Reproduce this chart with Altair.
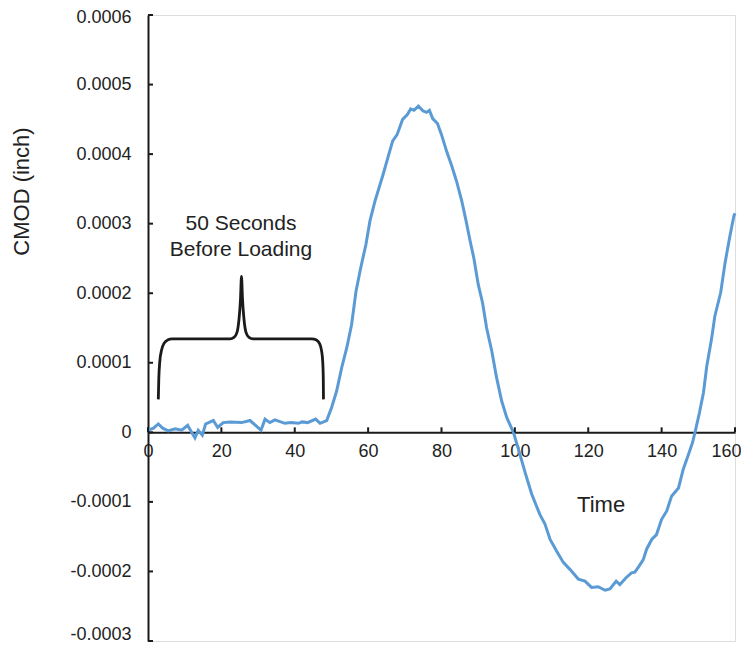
import altair as alt
import pandas as pd

# CMOD values in units of 1e-4 inch
time = [0, 0.5, 1.5, 2.8, 4, 5.5, 7.4, 9.2, 10.8, 12.8, 13.7, 14.8, 15.7, 17.8, 19,
        20.5, 22.3, 25.5, 27.8, 30.8, 31.9, 33.2, 34.6, 37.3, 39, 41, 42, 43.5, 45.7,
        46.9, 48.7, 50, 51.4, 52.8, 54.2, 55.5, 56.7, 58, 59.4, 60.5, 61.9, 63, 64.1,
        65.5, 66.7, 67.9, 69.4, 70.7, 71.6, 72.5, 73.7, 75, 75.9, 76.7, 77.6, 78.9, 80,
        81.4, 82.8, 84.1, 85.5, 86.7, 87.8, 88.8, 90, 91.2, 92.3, 93.7, 95, 96.4, 97.8,
        99.6, 101.4, 102.8, 104.6, 106.8, 108.2, 109.6, 111.4, 113.2, 115, 117.3, 119.1,
        120.9, 122.7, 124.6, 125.9, 127.6, 128.6, 130.3, 131.8, 132.7, 133.9, 135, 135.9,
        137.3, 138.6, 140, 141.4, 142.7, 144.6, 145.9, 147.5, 148.4, 149.1, 150.3, 151.4,
        152.3, 153.6, 154.5, 156.1, 157.3, 158.6, 159.7, 160]
cmod_e4 = [0, 0.04, 0.06, 0.12, 0.06, 0.02, 0.05, 0.03, 0.10, -0.08, 0.03, -0.04, 0.12,
           0.17, 0.07, 0.14, 0.15, 0.14, 0.17, 0.03, 0.19, 0.14, 0.18, 0.13, 0.14, 0.13,
           0.15, 0.14, 0.19, 0.13, 0.17, 0.35, 0.59, 0.93, 1.22, 1.55, 2.03, 2.37, 2.70,
           3.04, 3.33, 3.52, 3.71, 3.97, 4.19, 4.28, 4.50, 4.57, 4.65, 4.63, 4.69, 4.62,
           4.60, 4.63, 4.51, 4.44, 4.28, 4.04, 3.83, 3.61, 3.33, 3.04, 2.75, 2.51, 2.13,
           1.86, 1.50, 1.17, 0.79, 0.45, 0.21, 0.0, -0.32, -0.58, -0.89, -1.18, -1.32,
           -1.54, -1.71, -1.87, -1.97, -2.11, -2.14, -2.23, -2.22, -2.27, -2.25, -2.14,
           -2.19, -2.09, -2.02, -2.01, -1.92, -1.83, -1.68, -1.54, -1.47, -1.25, -1.13,
           -0.92, -0.80, -0.53, -0.29, -0.15, 0.0, 0.28, 0.57, 0.95, 1.34, 1.67, 2.01,
           2.44, 2.82, 3.11, 3.15]

x_ticks = [0, 20, 40, 60, 80, 100, 120, 140, 160]
y_ticks_e4 = [-3, -2, -1, 0, 1, 2, 3, 4, 5, 6]

# curly brace annotation (time, 1e-4 inch)
brace_t = [2.81, 2.94, 3.22, 3.68, 4.36, 5.45, 6.54, 22.35, 23.44, 24.26, 24.8, 25.21,
           25.48, 25.76, 26.17, 26.71, 27.53, 28.62, 44.7, 45.79, 46.74, 47.29, 47.62,
           47.78, 47.83]
brace_v = [0.474, 0.762, 1.021, 1.179, 1.279, 1.330, 1.344, 1.344, 1.366, 1.438, 1.624,
           1.912, 2.243, 1.912, 1.624, 1.438, 1.366, 1.344, 1.344, 1.330, 1.279, 1.179,
           1.021, 0.762, 0.474]

notes = ["50 Seconds", "Before Loading", "Time"]
note_t = [25.35, 25.35, 123.5]
note_v = [2.99, 2.62, -1.05]
note_size = [21, 21, 22]

E = 1e-4
df = pd.DataFrame({"t": time, "v": [c * E for c in cmod_e4]})
brace = pd.DataFrame({"t": brace_t, "v": [b * E for b in brace_v], "o": range(len(brace_t))})
ndf = pd.DataFrame({"label": notes, "t": note_t, "v": [n * E for n in note_v], "s": note_size})
xt = pd.DataFrame({"t": x_ticks})
yt = pd.DataFrame({"v": [y * E for y in y_ticks_e4]})

FONT = "Liberation Sans"
AX = "#1a1a1a"
W, H = 587, 626

xscale = alt.Scale(domain=[0, 160], nice=False, zero=False)
yscale = alt.Scale(domain=[-0.0003, 0.0006], nice=False, zero=False)

xaxis = alt.Axis(values=x_ticks, offset=-H * 3 / 9, ticks=False, tickSize=0, grid=False,
                 domainColor=AX, domainWidth=2, labelFont=FONT, labelFontSize=18,
                 labelColor="#222222", labelPadding=10, title=None, labelFlush=False,
                 labelOffset={"condition": {"test": "datum.value >= 160", "value": -9},
                              "value": 0})
yaxis = alt.Axis(values=[y * E for y in y_ticks_e4], ticks=False, tickSize=0, grid=False,
                 domainColor=AX, domainWidth=2, labelFont=FONT, labelFontSize=18,
                 labelColor="#222222", labelPadding=17, labelFlush=False,
                 labelOffset={"condition": [
                     {"test": "datum.value > 0.00055", "value": 2},
                     {"test": "datum.value < -0.00025", "value": -7}],
                     "value": 0},
                 labelExpr="datum.value == 0 ? '0' : replace(format(datum.value, '.4f'), '\u2212', '-')",
                 title="CMOD (inch)", titleFont=FONT, titleFontSize=22,
                 titleFontWeight="normal", titleColor="#222222",
                 titleX=-127, titleY=176, titleAlign="center", titleBaseline="middle",
                 titleAngle=270)

line = alt.Chart(df).mark_line(color="#5B9BD5", strokeWidth=3).encode(
    x=alt.X("t:Q", scale=xscale, axis=xaxis),
    y=alt.Y("v:Q", scale=yscale, axis=yaxis),
)

brace_line = alt.Chart(brace).mark_line(color=AX, strokeWidth=2.8, interpolate="monotone").encode(
    x=alt.X("t:Q", scale=xscale),
    y=alt.Y("v:Q", scale=yscale),
    order="o:Q",
)

texts = alt.Chart(ndf).mark_text(font=FONT, color="#222222", align="center",
                                  baseline="middle").encode(
    x=alt.X("t:Q", scale=xscale),
    y=alt.Y("v:Q", scale=yscale),
    text="label:N",
    size=alt.Size("s:Q", scale=None, legend=None),
)

xtick_marks = alt.Chart(xt).mark_rule(color=AX, strokeWidth=2, y2Offset=-5).encode(
    x=alt.X("t:Q", scale=xscale),
    y=alt.YDatum(0),
    y2=alt.Y2Datum(0),
)

ytick_marks = alt.Chart(yt).mark_rule(color=AX, strokeWidth=2).encode(
    y=alt.Y("v:Q", scale=yscale),
    x=alt.value(0),
    x2=alt.value(5),
)

chart = alt.layer(line, brace_line, texts, xtick_marks, ytick_marks).properties(
    width=W, height=H,
    autosize=alt.AutoSizeParams(type="none"),
    padding={"left": 140, "top": 7, "right": 6, "bottom": 2},
).configure_view(stroke=None).configure(background="white")

chart.save("out.html", embed_options={"renderer": "svg", "actions": False})
